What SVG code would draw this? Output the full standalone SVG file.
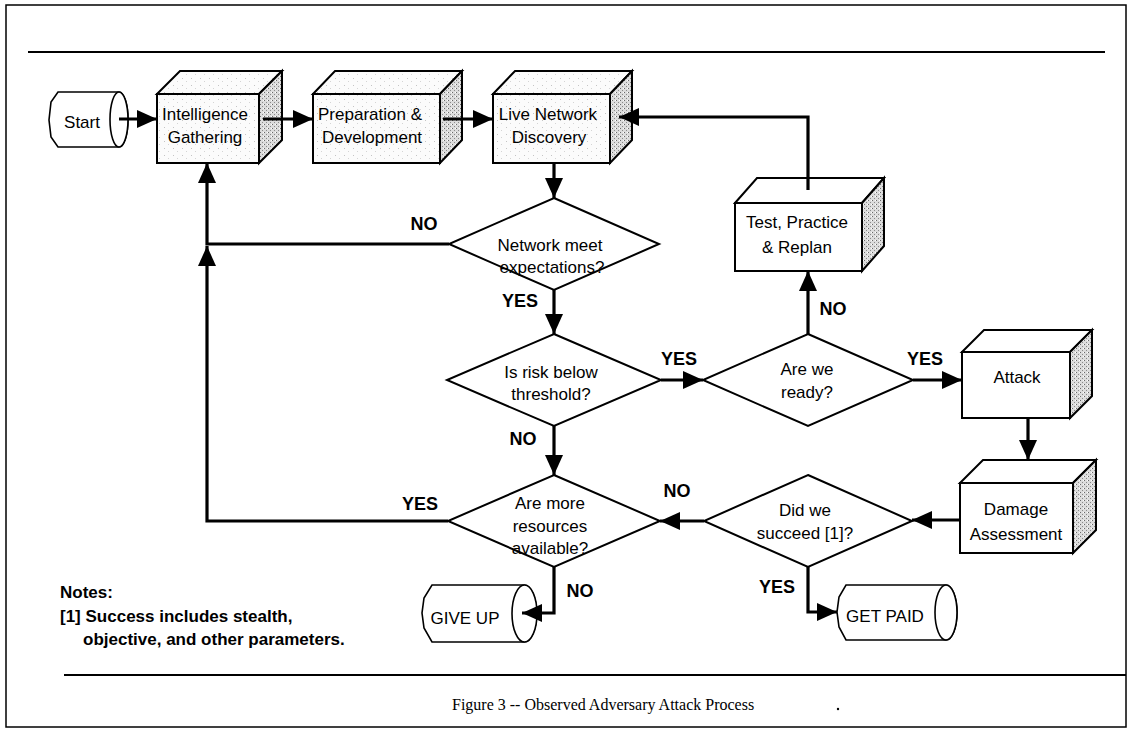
<svg xmlns="http://www.w3.org/2000/svg" width="1142" height="730" viewBox="0 0 1142 730">
<style>
.frame{fill:none;stroke:#000;stroke-width:1.5}
.rule{fill:none;stroke:#000;stroke-width:2}
.face{stroke:#000;stroke-width:2;stroke-linejoin:miter}
.dia{fill:#fff;stroke:#000;stroke-width:2}
.term{fill:#fff;stroke:#000;stroke-width:1.6}
.conn{fill:none;stroke:#000;stroke-width:3.2}
.t{font-family:"Liberation Sans",Arial,sans-serif;font-size:17px;fill:#000;text-anchor:middle}
.lbl{font-family:"Liberation Sans",Arial,sans-serif;font-size:18px;font-weight:bold;fill:#000;text-anchor:middle}
.note{font-family:"Liberation Sans",Arial,sans-serif;font-size:17px;font-weight:bold;fill:#000}
.cap{font-family:"Liberation Serif","Times New Roman",serif;font-size:16px;fill:#000}
</style>
<defs>
<pattern id="stip" width="4" height="4" patternUnits="userSpaceOnUse">
<rect width="4" height="4" fill="#dcdcdc"/><rect x="0" y="0" width="1" height="1" fill="#6a6a6a"/><rect x="2" y="2" width="1" height="1" fill="#8a8a8a"/><rect x="3" y="0" width="1" height="1" fill="#fff"/>
</pattern>
<pattern id="light" width="9" height="7" patternUnits="userSpaceOnUse">
<rect width="9" height="7" fill="#fbfbfb"/><rect x="2" y="1" width="1" height="1" fill="#c4c4c4"/><rect x="6" y="4" width="1" height="1" fill="#d4d4d4"/>
</pattern>
<marker id="ah" markerUnits="userSpaceOnUse" markerWidth="20" markerHeight="18" refX="20" refY="9" orient="auto">
<path d="M0,0 L20,9 L0,18 Z" fill="#000"/>
</marker>
</defs>

<rect class="frame" x="6" y="5" width="1120" height="722"/>
<line class="rule" x1="28" y1="52" x2="1105" y2="52"/>
<line class="rule" x1="64" y1="675" x2="1126" y2="675"/>

<g id="start">
<path class="term" d="M58,92 L119,92 A9,27.5 0 0 1 119,147 L58,147 L51,137 L49,120 L51,102 Z"/>
<ellipse class="term" cx="119" cy="119.5" rx="9" ry="27.5"/>
<text class="t" x="82" y="128">Start</text>
</g>

<g id="intelligence">
<rect class="face" x="157" y="94" width="102" height="69" fill="url(#light)"/>
<path class="face" d="M157,94 L180,71 L282,71 L259,94 Z" fill="url(#light)"/>
<path class="face" d="M259,94 L282,71 L282,140 L259,163 Z" fill="url(#stip)"/>
<text class="t" x="205" y="120">Intelligence</text>
<text class="t" x="205" y="143">Gathering</text>
</g>

<g id="preparation">
<rect class="face" x="313" y="94" width="127" height="69" fill="url(#light)"/>
<path class="face" d="M313,94 L335,71 L462,71 L440,94 Z" fill="url(#light)"/>
<path class="face" d="M440,94 L462,71 L462,140 L440,163 Z" fill="url(#stip)"/>
<text class="t" x="370" y="120">Preparation &amp;</text>
<text class="t" x="372" y="143">Development</text>
</g>

<g id="discovery">
<rect class="face" x="493" y="94" width="117" height="69" fill="url(#light)"/>
<path class="face" d="M493,94 L515,71 L632,71 L610,94 Z" fill="url(#light)"/>
<path class="face" d="M610,94 L632,71 L632,140 L610,163 Z" fill="url(#stip)"/>
<text class="t" x="548" y="120">Live Network</text>
<text class="t" x="549" y="143">Discovery</text>
</g>

<g id="network">
<path class="dia" d="M554,198 L659,244 L554,290 L449,244 Z"/>
<text class="t" x="550" y="251">Network meet</text>
<text class="t" x="552" y="273">expectations?</text>
</g>

<g id="test">
<rect class="face" x="735" y="203" width="127" height="68" fill="#fff"/>
<path class="face" d="M735,203 L757,178 L884,178 L862,203 Z" fill="#fff"/>
<path class="face" d="M862,203 L884,178 L884,246 L862,271 Z" fill="url(#stip)"/>
<text class="t" x="797" y="228">Test, Practice</text>
<text class="t" x="797" y="253">&amp; Replan</text>
</g>

<g id="risk">
<path class="dia" d="M554,334 L661,380 L554,426 L447,380 Z"/>
<text class="t" x="551" y="378">Is risk below</text>
<text class="t" x="551" y="400">threshold?</text>
</g>

<g id="ready">
<path class="dia" d="M808,334 L913,380 L808,426 L703,380 Z"/>
<text class="t" x="807" y="375">Are we</text>
<text class="t" x="807" y="398">ready?</text>
</g>

<g id="attack">
<rect class="face" x="962" y="352" width="108" height="66" fill="#fff"/>
<path class="face" d="M962,352 L984,330 L1092,330 L1070,352 Z" fill="#fff"/>
<path class="face" d="M1070,352 L1092,330 L1092,396 L1070,418 Z" fill="url(#stip)"/>
<text class="t" x="1017" y="383">Attack</text>
</g>

<g id="damage">
<rect class="face" x="960" y="483" width="113" height="70" fill="#fff"/>
<path class="face" d="M960,483 L983,460 L1096,460 L1073,483 Z" fill="#fff"/>
<path class="face" d="M1073,483 L1096,460 L1096,530 L1073,553 Z" fill="url(#stip)"/>
<text class="t" x="1016" y="515">Damage</text>
<text class="t" x="1016" y="540">Assessment</text>
</g>

<g id="succeed">
<path class="dia" d="M808,475 L912,521 L808,567 L704,521 Z"/>
<text class="t" x="805" y="516">Did we</text>
<text class="t" x="805" y="539">succeed [1]?</text>
</g>

<g id="resources">
<path class="dia" d="M554,475 L660,521 L554,567 L448,521 Z"/>
<text class="t" x="550" y="509">Are more</text>
<text class="t" x="550" y="532">resources</text>
<text class="t" x="550" y="554">available?</text>
</g>

<g id="giveup">
<path class="term" d="M432,585 L524,585 A12.5,28.5 0 0 1 524,642 L432,642 L424,628 L422,613 L424,598 Z"/>
<ellipse class="term" cx="524.5" cy="613.5" rx="12.5" ry="28.5"/>
<text class="t" x="465" y="624">GIVE UP</text>
</g>

<g id="getpaid">
<path class="term" d="M846,585 L946,585 A11,27.5 0 0 1 946,640 L846,640 L839,627 L837,612 L839,597 Z"/>
<ellipse class="term" cx="946" cy="612.5" rx="11" ry="27.5"/>
<text class="t" x="885" y="622">GET PAID</text>
</g>

<g id="connectors">
<path class="conn" d="M119,119 L157,119" marker-end="url(#ah)"/>
<path class="conn" d="M263,119 L313,119" marker-end="url(#ah)"/>
<path class="conn" d="M443,119 L493,119" marker-end="url(#ah)"/>
<path class="conn" d="M554,163 L554,198" marker-end="url(#ah)"/>
<path class="conn" d="M449,244 L207,244 L207,163" marker-end="url(#ah)"/>
<path class="conn" d="M554,290 L554,334" marker-end="url(#ah)"/>
<path class="conn" d="M661,380 L703,380" marker-end="url(#ah)"/>
<path class="conn" d="M913,380 L962,380" marker-end="url(#ah)"/>
<path class="conn" d="M808,334 L808,271" marker-end="url(#ah)"/>
<path class="conn" d="M808,190 L808,117 L619,117" marker-end="url(#ah)"/>
<path class="conn" d="M554,426 L554,475" marker-end="url(#ah)"/>
<path class="conn" d="M1028,418 L1028,460" marker-end="url(#ah)"/>
<path class="conn" d="M960,520 L912,520" marker-end="url(#ah)"/>
<path class="conn" d="M704,521 L660,521" marker-end="url(#ah)"/>
<path class="conn" d="M448,521 L207,521 L207,246" marker-end="url(#ah)"/>
<path class="conn" d="M554,567 L554,613 L522,613" marker-end="url(#ah)"/>
<path class="conn" d="M808,567 L808,612 L837,612" marker-end="url(#ah)"/>
</g>

<g id="labels">
<text class="lbl" x="424" y="230">NO</text>
<text class="lbl" x="520" y="307">YES</text>
<text class="lbl" x="679" y="365">YES</text>
<text class="lbl" x="925" y="365">YES</text>
<text class="lbl" x="833" y="315">NO</text>
<text class="lbl" x="523" y="445">NO</text>
<text class="lbl" x="677" y="497">NO</text>
<text class="lbl" x="420" y="510">YES</text>
<text class="lbl" x="580" y="597">NO</text>
<text class="lbl" x="777" y="593">YES</text>
</g>

<g id="notes">
<text class="note" x="60" y="598">Notes:</text>
<text class="note" x="60" y="622">[1] Success includes stealth,</text>
<text class="note" x="83" y="645">objective, and other parameters.</text>
</g>

<text class="cap" x="452" y="710">Figure 3 -- Observed Adversary Attack Process</text>
<circle cx="838" cy="709" r="1.2" fill="#000"/>
</svg>
